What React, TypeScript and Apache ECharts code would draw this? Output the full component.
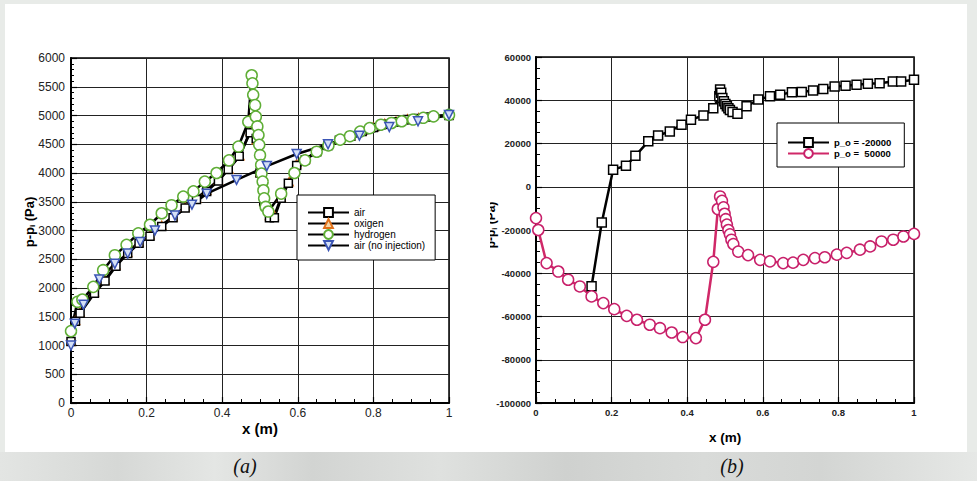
import React, { useEffect, useRef } from "react";
import * as echarts from "echarts";

// ---------- panel (a) ----------
const airA: number[][] = [
  [0, 1070], [0.012, 1420], [0.024, 1560], [0.062, 1910], [0.09, 2120], [0.119, 2380],
  [0.15, 2600], [0.18, 2780], [0.209, 2900], [0.24, 3070], [0.27, 3220], [0.302, 3390],
  [0.332, 3540], [0.359, 3680], [0.39, 3860], [0.416, 4060], [0.445, 4290], [0.474, 4700],
  [0.482, 5100], [0.49, 4600], [0.5, 4000], [0.51, 3500], [0.525, 3220], [0.538, 3220],
  [0.556, 3560], [0.575, 3820], [0.597, 4130], [0.62, 4230], [0.65, 4370], [0.68, 4480],
  [0.71, 4570], [0.74, 4640], [0.77, 4720], [0.8, 4790], [0.83, 4850], [0.86, 4890],
  [0.89, 4930], [0.92, 4950], [0.95, 4975], [1.0, 5000],
];
const oxigenA: number[][] = [
  [0, 1080], [0.012, 1440], [0.024, 1580], [0.062, 1930], [0.09, 2140], [0.119, 2400],
  [0.15, 2620], [0.18, 2800], [0.209, 2920], [0.24, 3090], [0.27, 3240], [0.302, 3410],
  [0.332, 3560], [0.359, 3700], [0.39, 3880], [0.418, 4070], [0.447, 4300], [0.474, 4730],
  [0.482, 5050], [0.49, 4580], [0.5, 4010], [0.51, 3520], [0.525, 3260], [0.538, 3260],
  [0.556, 3580], [0.577, 3850], [0.597, 4160], [0.62, 4240], [0.65, 4380], [0.68, 4490],
  [0.71, 4580], [0.74, 4650], [0.77, 4730], [0.8, 4800], [0.83, 4860], [0.86, 4900],
  [0.89, 4940], [0.92, 4960], [0.95, 4985], [1.0, 5005],
];
const hydrogenA: number[][] = [
  [0, 1250], [0.017, 1760], [0.03, 1800], [0.059, 2020], [0.085, 2310], [0.116, 2570],
  [0.147, 2750], [0.178, 2950], [0.209, 3100], [0.24, 3300], [0.266, 3440], [0.297, 3590],
  [0.324, 3680], [0.354, 3850], [0.385, 4000], [0.418, 4220], [0.443, 4460], [0.469, 4890],
  [0.478, 5700], [0.48, 5560], [0.482, 5360], [0.487, 5180], [0.489, 4980], [0.493, 4810],
  [0.496, 4660], [0.498, 4490], [0.5, 4310], [0.503, 4140], [0.504, 3990], [0.507, 3850],
  [0.509, 3700], [0.511, 3560], [0.515, 3410], [0.522, 3330], [0.556, 3640], [0.591, 4000],
  [0.619, 4220], [0.65, 4370], [0.681, 4480], [0.712, 4580], [0.738, 4640], [0.765, 4720],
  [0.79, 4780], [0.82, 4840], [0.848, 4870], [0.875, 4900], [0.905, 4930], [0.932, 4960],
  [0.959, 4985], [1.0, 5010],
];
const noInjA: number[][] = [
  [0, 1000], [0.01, 1380], [0.033, 1710], [0.075, 2150], [0.116, 2420], [0.15, 2600],
  [0.183, 2800], [0.222, 3000], [0.275, 3260], [0.32, 3450], [0.359, 3640], [0.438, 3880],
  [0.518, 4120], [0.597, 4330], [0.68, 4500], [0.763, 4650], [0.842, 4800], [0.918, 4900],
  [1.0, 5010],
];
const namesA = ["air", "oxigen", "hydrogen", "air (no injection)"];

// ---------- panel (b) ----------
const neg20000B: number[][] = [
  [0.147, -46000], [0.174, -16500], [0.204, 7900], [0.238, 9700], [0.263, 14300],
  [0.297, 21000], [0.323, 23700], [0.354, 25600], [0.385, 28700], [0.41, 31000],
  [0.443, 33000], [0.469, 36300], [0.485, 41800], [0.487, 45000], [0.49, 43500],
  [0.493, 41000], [0.497, 39500], [0.501, 38300], [0.505, 37200], [0.509, 36300],
  [0.513, 35500], [0.52, 34600], [0.533, 33800], [0.557, 37200], [0.588, 40300],
  [0.619, 41800], [0.646, 42600], [0.677, 43700], [0.703, 43800], [0.733, 44500],
  [0.76, 45200], [0.79, 46400], [0.819, 46700], [0.848, 47200], [0.878, 47600],
  [0.909, 47900], [0.944, 48700], [0.966, 48700], [1.0, 49500],
];
const pos50000B: number[][] = [
  [0, -14500], [0.006, -20000], [0.028, -35300], [0.059, -39200], [0.085, -43000],
  [0.116, -46100], [0.147, -50700], [0.178, -53800], [0.207, -56600], [0.24, -59700],
  [0.267, -61500], [0.301, -63800], [0.328, -65400], [0.359, -67400], [0.388, -69500],
  [0.423, -70000], [0.447, -61500], [0.469, -34700], [0.481, -10300], [0.487, -4500],
  [0.492, -6500], [0.496, -9500], [0.499, -12500], [0.502, -15000], [0.505, -17500],
  [0.509, -20000], [0.513, -22000], [0.517, -24500], [0.522, -26500], [0.535, -30000],
  [0.561, -31600], [0.593, -33800], [0.619, -34500], [0.654, -35300], [0.68, -35100],
  [0.707, -33800], [0.738, -33000], [0.764, -32600], [0.796, -31400], [0.822, -30600],
  [0.857, -29100], [0.884, -27600], [0.914, -25300], [0.945, -24500], [0.972, -23000],
  [1.0, -21800],
];
const namesB = ["p_o = -20000", "p_o =  50000"];

const FONT = "Liberation Sans";
const plain = (v: number) => String(Math.round(v * 1000) / 1000);

function App() {
  const ref = useRef<HTMLDivElement>(null);

  useEffect(() => {
    if (!ref.current) return;
    const chart = echarts.init(ref.current, undefined, { renderer: "svg" });

    const axisCommon = (labelBold: boolean, labelSize: number, labelMargin: number) => ({
      axisLine: { show: true, onZero: false, lineStyle: { color: "#000", width: 2 } },
      axisTick: { show: true, inside: true, length: 6, lineStyle: { color: "#000", width: 1.2 } },
      splitLine: { show: true, lineStyle: { color: "#222", width: 1 } },
      axisLabel: {
        color: "#222",
        fontFamily: FONT,
        fontSize: labelSize,
        fontWeight: labelBold ? "bold" : "normal",
        margin: labelMargin,
        formatter: plain,
      },
    });

    const lineSeries = (
      name: string,
      data: number[][],
      xi: number,
      symbol: string,
      size: number,
      fill: string,
      border: string,
      lineColor: string,
      rotate = 0
    ) => ({
      type: "line",
      name,
      data,
      xAxisIndex: xi,
      yAxisIndex: xi,
      symbol,
      symbolSize: size,
      symbolRotate: rotate,
      showAllSymbol: true,
      clip: false,
      lineStyle: { color: lineColor, width: 2.5 },
      itemStyle: { color: fill, borderColor: border, borderWidth: 1.5 },
      emphasis: { disabled: true },
    });

    const option: any = {
      animation: false,
      backgroundColor: "transparent",
      grid: [
        { left: 71, top: 58, width: 378, height: 345, show: true, borderColor: "#000", borderWidth: 1.5 },
        { left: 536, top: 57, width: 378, height: 346, show: true, borderColor: "#000", borderWidth: 1.5 },
      ],
      xAxis: [
        {
          type: "value", gridIndex: 0, min: 0, max: 1, interval: 0.2,
          ...axisCommon(false, 12, 4),
          minorTick: { show: true, splitNumber: 4, length: 4, lineStyle: { color: "#000", width: 1 } },
        },
        {
          type: "value", gridIndex: 1, min: 0, max: 1, interval: 0.2,
          ...axisCommon(true, 9.5, 4),
          minorTick: { show: true, splitNumber: 4, length: 4, lineStyle: { color: "#000", width: 1 } },
        },
      ],
      yAxis: [
        {
          type: "value", gridIndex: 0, min: 0, max: 6000, interval: 500,
          ...axisCommon(false, 12, 6),
          minorTick: { show: true, splitNumber: 5, length: 3, lineStyle: { color: "#000", width: 1 } },
        },
        {
          type: "value", gridIndex: 1, min: -100000, max: 60000, interval: 20000,
          ...axisCommon(true, 9.5, 5),
          minorTick: { show: true, splitNumber: 4, length: 4, lineStyle: { color: "#000", width: 1 } },
        },
      ],
      legend: [
        {
          data: namesA,
          orient: "vertical",
          left: 297,
          top: 195,
          backgroundColor: "#fff",
          borderColor: "#000",
          borderWidth: 1,
          borderRadius: 0,
          padding: [12, 10, 9, 10],
          itemWidth: 41,
          itemHeight: 11,
          itemGap: 0,
          selectedMode: false,
          textStyle: { fontFamily: FONT, fontSize: 10, color: "#000", lineHeight: 11 },
        },
        {
          data: namesB,
          orient: "vertical",
          left: 777,
          top: 123,
          backgroundColor: "#fff",
          borderColor: "#000",
          borderWidth: 1,
          borderRadius: 0,
          padding: [14, 13, 8, 10],
          itemWidth: 41,
          itemHeight: 11,
          itemGap: 0,
          selectedMode: false,
          textStyle: { fontFamily: FONT, fontSize: 9.5, fontWeight: "bold", color: "#000", lineHeight: 11 },
        },
      ],
      series: [
        lineSeries(namesA[1], oxigenA, 0, "triangle", 8, "#f6d6a8", "#e0701a", "#000"),
        lineSeries(namesA[0], airA, 0, "rect", 8, "#fff", "#000", "#000"),
        lineSeries(namesA[2], hydrogenA, 0, "circle", 11, "#fff", "#5fae36", "#000"),
        lineSeries(namesA[3], noInjA, 0, "triangle", 9, "#d4e0f6", "#3b55b5", "#000", 180),
        lineSeries(namesB[0], neg20000B, 1, "rect", 9, "#fff", "#000", "#000"),
        lineSeries(namesB[1], pos50000B, 1, "circle", 11, "#fff", "#c8206a", "#d02868"),
      ],
      graphic: [
        {
          type: "text", x: 29, y: 222, rotation: Math.PI / 2,
          style: {
            text: "{a|p-p}{s|i}{a| (Pa)}",
            align: "center", verticalAlign: "middle", fill: "#000",
            rich: {
              a: { fontFamily: FONT, fontSize: 13, fontWeight: "bold", lineHeight: 15, fill: "#000" },
              s: { fontFamily: FONT, fontSize: 8, fontWeight: "bold", lineHeight: 9, verticalAlign: "bottom", fill: "#000" },
            },
          },
        },
        {
          type: "text", x: 491, y: 225, rotation: Math.PI / 2,
          style: {
            text: "{a|p-p}{s|i}{a| (Pa)}",
            align: "center", verticalAlign: "middle", fill: "#000",
            rich: {
              a: { fontFamily: FONT, fontSize: 12, fontWeight: "bold", lineHeight: 14, fill: "#000" },
              s: { fontFamily: FONT, fontSize: 7, fontWeight: "bold", lineHeight: 8, verticalAlign: "bottom", fill: "#000" },
            },
          },
        },
        { type: "rect", shape: { x: 470, y: 180, width: 20, height: 90 }, style: { fill: "#fff" } },
        {
          type: "text", x: 260, y: 428,
          style: { text: "x (m)", fontFamily: FONT, fontSize: 15, fontWeight: "bold", fill: "#000", align: "center", verticalAlign: "middle" },
        },
        {
          type: "text", x: 725, y: 437,
          style: { text: "x (m)", fontFamily: FONT, fontSize: 13.5, fontWeight: "bold", fill: "#000", align: "center", verticalAlign: "middle" },
        },
        {
          type: "text", x: 245, y: 466,
          style: { text: "(a)", fontFamily: "Liberation Serif", fontSize: 20, fontStyle: "italic", fill: "#111", align: "center", verticalAlign: "middle" },
        },
        {
          type: "text", x: 732, y: 466,
          style: { text: "(b)", fontFamily: "Liberation Serif", fontSize: 20, fontStyle: "italic", fill: "#111", align: "center", verticalAlign: "middle" },
        },
      ],
    };

    chart.setOption(option);
    return () => chart.dispose();
  }, []);

  return (
    <div style={{ position: "fixed", left: 0, top: 0, width: 977, height: 481, background: "#e8ebe8", overflow: "hidden" }}>
      <div style={{ position: "absolute", left: 5, top: 4, width: 962, height: 448, background: "#fff" }} />
      <div
        style={{
          position: "absolute", left: 0, top: 452, width: 977, height: 29,
          background:
            "linear-gradient(90deg, #e3e5e3 0%, #d6d8d6 12%, #e4e6e4 22%, #d2d4d2 32%, #dfe1df 45%, #cfd1cf 58%, #d9dbd9 72%, #d3d5d3 84%, #e6e8e6 100%)",
        }}
      />
      <div ref={ref} style={{ position: "absolute", left: 0, top: 0, width: 977, height: 481 }} />
    </div>
  );
}

export default App;
